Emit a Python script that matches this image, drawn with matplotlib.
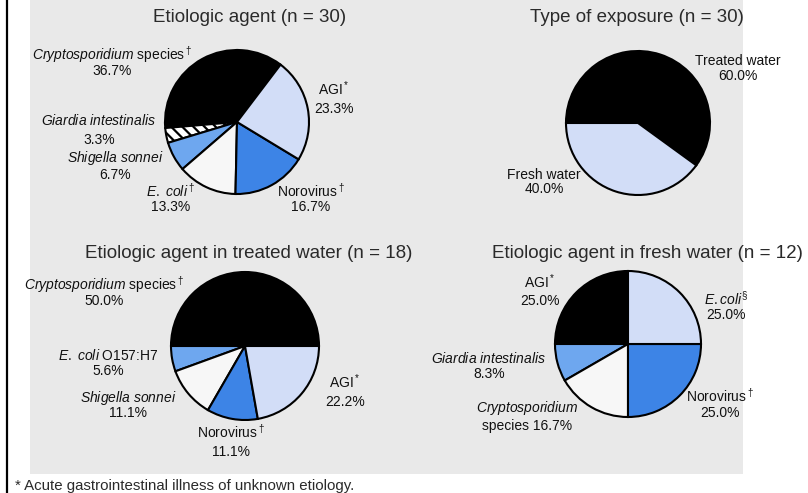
import matplotlib.pyplot as plt
from matplotlib.patches import Rectangle

plt.rcParams['font.family'] = ['Liberation Sans', 'DejaVu Sans']
plt.rcParams['mathtext.fontset'] = 'custom'
plt.rcParams['mathtext.rm'] = 'Liberation Sans'
plt.rcParams['mathtext.it'] = 'Liberation Sans:italic'
plt.rcParams['hatch.linewidth'] = 1.6

# --- data (number of outbreaks) ---
agent_names = ['Cryptosporidium', 'Giardia', 'Shigella', 'E. coli', 'Norovirus', 'AGI']
agent_counts = [11, 1, 2, 4, 5, 7]

exposure_names = ['Treated water', 'Fresh water']
exposure_counts = [18, 12]

treated_names = ['Cryptosporidium', 'E. coli O157:H7', 'Shigella', 'Norovirus', 'AGI']
treated_counts = [9, 1, 2, 2, 4]

fresh_names = ['AGI', 'Giardia', 'Cryptosporidium', 'Norovirus', 'E. coli']
fresh_counts = [3, 1, 2, 3, 3]

BLACK = '#000000'
LIGHT = '#d2ddf7'
MID = '#6ea7ef'
BLUE = '#3d84e6'
WHITE = '#f7f7f7'
GREY = '#e9e9e9'

W, H = 808, 493
fig = plt.figure(figsize=(W / 100, H / 100), dpi=100)
ax = fig.add_axes([0, 0, 1, 1])


def Y(py):
    # pixel row (from top) -> data y
    return H - py


def pct(v, counts):
    return f"{100 * v / sum(counts):.1f}%"


ax.add_patch(Rectangle((30, Y(474)), 713, 474, facecolor=GREY, edgecolor='none', zorder=0))
ax.plot([6.5, 6.5], [0, H], color='black', lw=1.6, zorder=1)

wp = dict(edgecolor='black', linewidth=1.5)

# 1) etiologic agent
w1, _ = ax.pie(agent_counts, colors=[BLACK, 'white', MID, WHITE, BLUE, LIGHT],
               startangle=52.8, center=(237, Y(122)), radius=72,
               wedgeprops=wp, frame=True)
w1[1].set_hatch('\\\\\\')

# 2) type of exposure
ax.pie(exposure_counts, colors=[BLACK, LIGHT], startangle=-36,
       center=(638, Y(123)), radius=72, wedgeprops=wp, frame=True)

# 3) treated water
ax.pie(treated_counts, colors=[BLACK, MID, WHITE, BLUE, LIGHT], startangle=0,
       center=(245, Y(346)), radius=74, wedgeprops=wp, frame=True)

# 4) fresh water
ax.pie(fresh_counts, colors=[BLACK, MID, WHITE, BLUE, LIGHT], startangle=90,
       center=(628, Y(344)), radius=73, wedgeprops=wp, frame=True)

ax.set_xlim(0, W)
ax.set_ylim(0, H)
ax.axis('off')

tfs = 13.5
tc = '#2a2a2a'
ax.text(250, Y(18), 'Etiologic agent (n = 30)', ha='center', va='center', fontsize=tfs, color=tc)
ax.text(637, Y(18), 'Type of exposure (n = 30)', ha='center', va='center', fontsize=tfs, color=tc)
ax.text(249, Y(253), 'Etiologic agent in treated water (n = 18)', ha='center', va='center', fontsize=tfs, color=tc)
ax.text(647, Y(253), 'Etiologic agent in fresh water (n = 12)', ha='center', va='center', fontsize=tfs, color=tc)

lfs = 10
lc = '#111111'


def label(x, y1, name, y2, value):
    # name line baseline-anchored so superscripts rise above, not into the next line
    ax.text(x, Y(y1 + 5), name, ha='center', va='baseline', fontsize=lfs, color=lc)
    ax.text(x, Y(y2 + 1), value, ha='center', va='center', fontsize=lfs, color=lc)


# pie 1 labels
label(112, 55, r'$\mathit{Cryptosporidium}$ species$^\dagger$', 70, pct(agent_counts[0], agent_counts))
label(99, 120, r'$\mathit{Giardia\ intestinalis}$', 139, pct(agent_counts[1], agent_counts))
label(115, 157, r'$\mathit{Shigella\ sonnei}$', 174, pct(agent_counts[2], agent_counts))
label(171, 192, r'$\mathit{E.\ coli}^\dagger$', 206, pct(agent_counts[3], agent_counts))
label(311, 192, r'Norovirus$^\dagger$', 206, pct(agent_counts[4], agent_counts))
label(334, 90, r'AGI$^*$', 108, pct(agent_counts[5], agent_counts))

# pie 2 labels
label(738, 60, exposure_names[0], 75, pct(exposure_counts[0], exposure_counts))
label(544, 174, exposure_names[1], 188, pct(exposure_counts[1], exposure_counts))

# pie 3 labels
label(104, 285, r'$\mathit{Cryptosporidium}$ species$^\dagger$', 300, pct(treated_counts[0], treated_counts))
label(108, 355, r'$\mathit{E.\ coli}$ O157:H7', 370, pct(treated_counts[1], treated_counts))
label(128, 397, r'$\mathit{Shigella\ sonnei}$', 412, pct(treated_counts[2], treated_counts))
label(231, 433, r'Norovirus$^\dagger$', 451, pct(treated_counts[3], treated_counts))
label(345, 383, r'AGI$^*$', 401, pct(treated_counts[4], treated_counts))

# pie 4 labels
label(540, 283, r'AGI$^*$', 300, pct(fresh_counts[0], fresh_counts))
label(489, 358, r'$\mathit{Giardia\ intestinalis}$', 373, pct(fresh_counts[1], fresh_counts))
label(527, 407, r'$\mathit{Cryptosporidium}$', 425, 'species ' + pct(fresh_counts[2], fresh_counts))
label(720, 397, r'Norovirus$^\dagger$', 412, pct(fresh_counts[3], fresh_counts))
label(726, 300, r'$\mathit{E.coli}^\S$', 314, pct(fresh_counts[4], fresh_counts))

ax.text(15, Y(486), '* Acute gastrointestinal illness of unknown etiology.', ha='left', va='center',
        fontsize=10.8, color=tc)

fig.savefig('out.png', dpi=100, facecolor='white')
